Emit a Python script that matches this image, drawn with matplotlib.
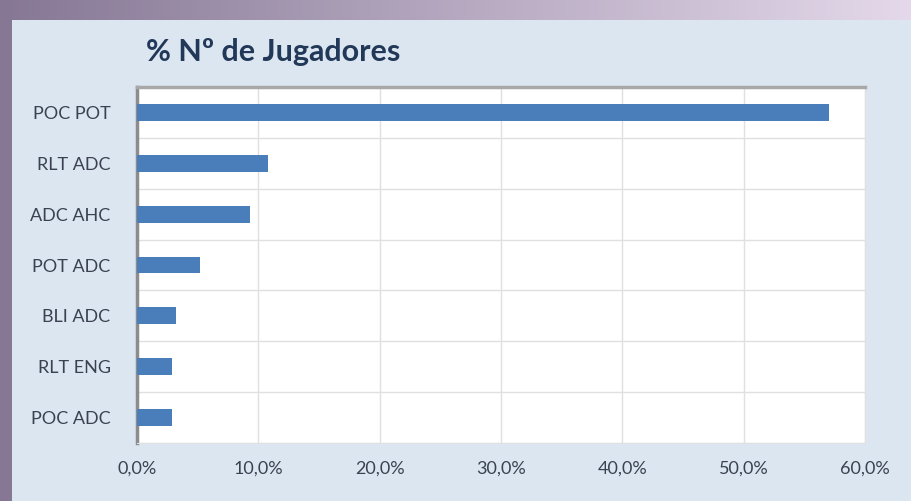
import numpy as np
import matplotlib
matplotlib.use("Agg")
import matplotlib.pyplot as plt
from matplotlib.patches import Rectangle
from matplotlib.ticker import FuncFormatter

categories = ["POC POT", "RLT ADC", "ADC AHC", "POT ADC", "BLI ADC", "RLT ENG", "POC ADC"]
values = [57.0, 10.8, 9.3, 5.2, 3.2, 2.9, 2.9]
xticks = [0, 10, 20, 30, 40, 50, 60]
title = "% Nº de Jugadores"

plt.rcParams['font.family'] = ['Lato', 'DejaVu Sans']

W, H = 911, 501
fig = plt.figure(figsize=(W / 100, H / 100), dpi=100)

# outer purple gradient border
bg = fig.add_axes([0, 0, 1, 1], zorder=-10)
grad = np.linspace(0, 1, 256)
c0 = np.array([0x86, 0x78, 0x95]) / 255
c1 = np.array([0xe4, 0xd8, 0xea]) / 255
img = c0[None, :] * (1 - grad[:, None]) + c1[None, :] * grad[:, None]
bg.imshow(img[None, :, :], aspect='auto', extent=[0, 1, 0, 1])
bg.add_patch(Rectangle((12 / W, 0), 1 - 12 / W, 1 - 20 / H, transform=bg.transAxes,
                       facecolor='#dce6f1', edgecolor='none'))
bg.set_xlim(0, 1); bg.set_ylim(0, 1)
bg.axis('off')

left, right, top, bottom = 137, 865, 87, 443
ax = fig.add_axes([left / W, 1 - bottom / H, (right - left) / W, (bottom - top) / H])
ax.set_facecolor('white')

y = np.arange(len(categories))
ax.barh(y, values, height=0.33, color='#4a7ebb', zorder=3)
ax.set_ylim(len(categories) - 0.5, -0.5)
ax.set_xlim(0, 60)
ax.set_xticks(xticks)
ax.xaxis.set_major_formatter(FuncFormatter(lambda v, p: f"{v:.1f}%".replace('.', ',')))
ax.set_yticks(y)
ax.set_yticklabels(categories)
ax.set_yticks(np.arange(len(categories) + 1) - 0.5, minor=True)
ax.grid(axis='x', which='major', color='#e0e0e0', linewidth=1, zorder=0)
ax.grid(axis='y', which='minor', color='#e0e0e0', linewidth=1, zorder=0)
ax.tick_params(axis='both', which='both', length=0)
ax.tick_params(axis='y', pad=19, labelsize=13, labelcolor='#3b4150')
ax.tick_params(axis='x', pad=13, labelsize=13, labelcolor='#3b4150')
for s in ['right', 'bottom']:
    ax.spines[s].set_color('#e0e0e0')
ax.spines['left'].set_color('#8c8c8c')
ax.spines['left'].set_linewidth(2.5)
ax.spines['top'].set_color('#a8a8a8')
ax.spines['top'].set_linewidth(2.5)

fig.text(146 / W, 1 - 52 / H, title, fontsize=22, fontweight='bold', color='#213858',
         va='center', ha='left')

fig.savefig("out.png", dpi=100)
